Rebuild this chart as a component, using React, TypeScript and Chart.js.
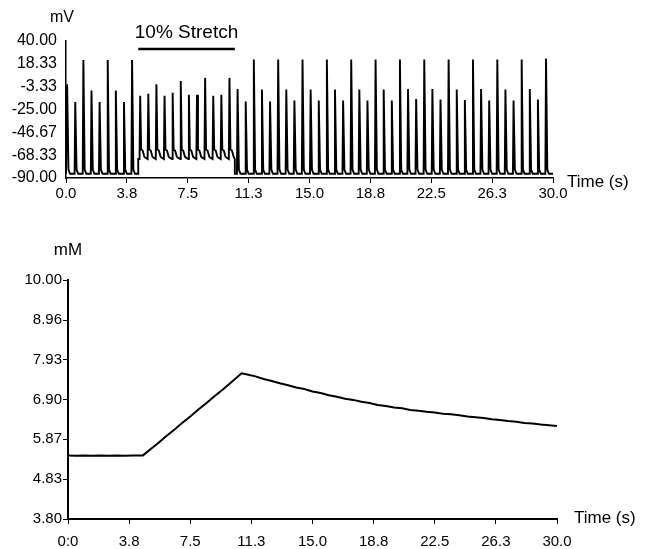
import React, { useEffect, useRef } from "react";
import { Chart, registerables } from "chart.js";

Chart.register(...registerables);

// ---------- Data: membrane potential (top panel) ----------
const spikeTimes = [
  0.05, 0.55, 1.05, 1.55, 2.05, 2.55, 3.05, 3.55, 4.05, 4.55,
  5.05, 5.55, 6.05, 6.55, 7.05, 7.55, 8.05, 8.55, 9.05, 9.55,
  10.05, 10.55, 11.05, 11.55, 12.05, 12.55, 13.05, 13.55, 14.05, 14.55,
  15.05, 15.55, 16.05, 16.55, 17.05, 17.55, 18.05, 18.55, 19.05, 19.55,
  20.05, 20.55, 21.05, 21.55, 22.05, 22.55, 23.05, 23.55, 24.05, 24.55,
  25.05, 25.55, 26.05, 26.55, 27.05, 27.55, 28.05, 28.55, 29.05, 29.55,
];
const spikePeaks = [
  -1, -18, 22, -7, -18, 22, -7, -18, 22, -12,
  -10, -1, -12, -9, 2, -11, -11, 5, -12, -11,
  5, -5.5, -17.5, 22.5, -6, -17.5, 22.5, -6, -16.5, 22.5,
  -6, -16.5, 22.5, -6, -16.5, 22.5, -6, -16.5, 22.5, -6,
  -16.5, 22.5, -5.5, -15, 22.5, -5.5, -15.5, 22.5, -6, -16,
  22.5, -5.5, -16.5, 22.5, -6, -16.5, 22.5, -5.5, -15.5, 23.5,
];
const restBase = -86;
const stretchBase = -72;
const stretchStart = 4.45;
const stretchEnd = 10.4;

const topYTicks = [-90, -68.33, -46.67, -25, -3.33, 18.33, 40];
const topYLabels = ["-90.00", "-68.33", "-46.67", "-25.00", "-3.33", "18.33", "40.00"];
const xTickValues = [0, 3.75, 7.5, 11.25, 15, 18.75, 22.5, 26.25, 30];
const topXLabels = ["0.0", "3.8", "7.5", "11.3", "15.0", "18.8", "22.5", "26.3", "30.0"];

// ---------- Data: concentration (bottom panel) ----------
const caTimes = [
  0, 0.5, 1, 1.5, 2, 2.5, 3, 3.5, 4, 4.6,
  5, 5.5, 6, 6.5, 7, 7.5, 8, 8.5, 9, 9.5, 10, 10.65,
  11, 11.5, 12, 12.5, 13, 13.5, 14, 14.5, 15, 15.5, 16, 16.5, 17, 17.5,
  18, 18.5, 19, 19.5, 20, 20.5, 21, 21.5, 22, 22.5, 23, 23.5, 24, 24.5,
  25, 25.5, 26, 26.5, 27, 27.5, 28, 28.5, 29, 29.5, 30,
];
const caValues = [
  5.45, 5.44, 5.45, 5.44, 5.45, 5.44, 5.45, 5.44, 5.45, 5.45,
  5.59, 5.76, 5.94, 6.11, 6.29, 6.46, 6.64, 6.81, 6.99, 7.16, 7.34, 7.58,
  7.55, 7.50, 7.43, 7.38, 7.32, 7.27, 7.21, 7.17, 7.11, 7.07, 7.01, 6.97, 6.92, 6.89,
  6.84, 6.81, 6.76, 6.73, 6.69, 6.67, 6.63, 6.61, 6.58, 6.56, 6.53, 6.52, 6.49, 6.46,
  6.44, 6.42, 6.39, 6.37, 6.34, 6.32, 6.29, 6.28, 6.25, 6.23, 6.21,
];
const botYTicks = [3.8, 4.83, 5.87, 6.9, 7.93, 8.96, 10];
const botYLabels = ["3.80", "4.83", "5.87", "6.90", "7.93", "8.96", "10.00"];
const botXLabels = ["0:0", "3.8", "7.5", "11.3", "15.0", "18.8", "22.5", "26.3", "30.0"];

const FONT = "'Liberation Sans', Arial, sans-serif";

function buildTrace() {
  const pts: { x: number; y: number }[] = [{ x: 0, y: restBase }];
  let prevBase = restBase;
  spikeTimes.forEach((t, k) => {
    const inStretch = t >= stretchStart && t < stretchEnd;
    const b = inStretch ? stretchBase : restBase;
    if (b !== prevBase) {
      const edge = inStretch ? stretchStart : stretchEnd;
      pts.push({ x: edge, y: prevBase }, { x: edge, y: b });
      prevBase = b;
    }
    const p = spikePeaks[k];
    pts.push({ x: t - 0.02, y: b }, { x: t + 0.02, y: p });
    if (inStretch) {
      pts.push(
        { x: t + 0.08, y: b + 9 },
        { x: t + 0.17, y: b + 8 },
        { x: t + 0.28, y: b + 2 }
      );
    } else {
      pts.push({ x: t + 0.1, y: b + 4 }, { x: t + 0.2, y: b });
    }
  });
  pts.push({ x: 30, y: restBase });
  return pts;
}

const textPlugin = (kind: "top" | "bottom") => ({
  id: "texts-" + kind,
  afterDraw(chart: any) {
    const ctx = chart.ctx;
    const xs = chart.scales.x;
    ctx.save();
    ctx.fillStyle = "#000";
    ctx.strokeStyle = "#000";
    ctx.textBaseline = "middle";
    if (kind === "top") {
      ctx.font = `16px ${FONT}`;
      ctx.textAlign = "center";
      ctx.fillText("mV", 62, 18);
      ctx.font = `19px ${FONT}`;
      const x0 = xs.getPixelForValue(stretchStart);
      const x1 = xs.getPixelForValue(stretchEnd);
      ctx.fillText("10% Stretch", (x0 + x1) / 2, 33);
      ctx.lineWidth = 2.5;
      ctx.beginPath();
      ctx.moveTo(x0, 49);
      ctx.lineTo(x1, 49);
      ctx.stroke();
      ctx.font = `17px ${FONT}`;
      ctx.textAlign = "left";
      ctx.fillText("Time (s)", xs.right + 14, xs.top + 4);
    } else {
      ctx.font = `17px ${FONT}`;
      ctx.textAlign = "center";
      ctx.fillText("mM", 68, 20);
      ctx.textAlign = "left";
      ctx.fillText("Time (s)", xs.right + 17, xs.top - 1);
    }
    ctx.restore();
  },
});

export default function App() {
  const topRef = useRef<HTMLCanvasElement>(null);
  const botRef = useRef<HTMLCanvasElement>(null);

  useEffect(() => {
    const tickFont = { family: FONT, size: 15 };
    const top = new Chart(topRef.current!, {
      type: "line",
      data: {
        datasets: [
          {
            data: buildTrace(),
            borderColor: "#000",
            borderWidth: 1.9,
            pointRadius: 0,
            tension: 0,
            fill: false,
          },
        ],
      },
      options: {
        responsive: false,
        animation: false,
        events: [],
        layout: { padding: { left: 0, right: 93, top: 41, bottom: 0 } },
        plugins: { legend: { display: false }, tooltip: { enabled: false } },
        scales: {
          x: {
            type: "linear",
            min: 0,
            max: 30,
            afterBuildTicks: (s: any) => {
              s.ticks = xTickValues.map((v) => ({ value: v }));
            },
            afterFit: (s: any) => {
              s.height = 37;
            },
            ticks: {
              callback: (_v: any, i: number) => topXLabels[i],
              autoSkip: false,
              maxRotation: 0,
              color: "#000",
              font: tickFont,
              padding: 2,
            },
            grid: { display: true, drawOnChartArea: false, drawTicks: true, tickLength: 5, color: "#000", lineWidth: 1 },
            border: { display: true, color: "#000", width: 1.5 },
          },
          y: {
            type: "linear",
            min: -90,
            max: 40,
            afterBuildTicks: (s: any) => {
              s.ticks = topYTicks.map((v) => ({ value: v }));
            },
            afterFit: (s: any) => {
              s.width = 66;
            },
            ticks: {
              callback: (_v: any, i: number) => topYLabels[i],
              autoSkip: false,
              color: "#000",
              font: { family: FONT, size: 16 },
              padding: 9,
            },
            grid: { display: false, drawTicks: false, tickLength: 0 },
            border: { display: true, color: "#000", width: 1.5 },
          },
        },
      },
      plugins: [textPlugin("top")],
    } as any);

    const bot = new Chart(botRef.current!, {
      type: "line",
      data: {
        datasets: [
          {
            data: caTimes.map((t, i) => ({ x: t, y: caValues[i] })),
            borderColor: "#000",
            borderWidth: 2,
            pointRadius: 0,
            tension: 0,
            fill: false,
          },
        ],
      },
      options: {
        responsive: false,
        animation: false,
        events: [],
        layout: { padding: { left: 0, right: 89, top: 50, bottom: 0 } },
        plugins: { legend: { display: false }, tooltip: { enabled: false } },
        scales: {
          x: {
            type: "linear",
            min: 0,
            max: 30,
            afterBuildTicks: (s: any) => {
              s.ticks = xTickValues.map((v) => ({ value: v }));
            },
            afterFit: (s: any) => {
              s.height = 30;
            },
            ticks: {
              callback: (_v: any, i: number) => botXLabels[i],
              autoSkip: false,
              maxRotation: 0,
              color: "#000",
              font: tickFont,
              padding: 9,
            },
            grid: { display: true, drawOnChartArea: false, drawTicks: true, tickLength: 5, color: "#000", lineWidth: 1 },
            border: { display: true, color: "#000", width: 2 },
          },
          y: {
            type: "linear",
            min: 3.8,
            max: 10,
            afterBuildTicks: (s: any) => {
              s.ticks = botYTicks.map((v) => ({ value: v }));
            },
            afterFit: (s: any) => {
              s.width = 68;
            },
            ticks: {
              callback: (_v: any, i: number) => botYLabels[i],
              autoSkip: false,
              color: "#000",
              font: tickFont,
              padding: 1,
            },
            grid: { display: true, drawOnChartArea: false, drawTicks: true, tickLength: 5, color: "#000", lineWidth: 1 },
            border: { display: true, color: "#000", width: 2 },
          },
        },
      },
      plugins: [textPlugin("bottom")],
    } as any);

    return () => {
      top.destroy();
      bot.destroy();
    };
  }, []);

  return (
    <div style={{ position: "absolute", left: 0, top: 0, width: 646, height: 549, background: "#fff" }}>
      <canvas ref={topRef} width={646} height={215} style={{ position: "absolute", left: 0, top: 0 }} />
      <canvas ref={botRef} width={646} height={319} style={{ position: "absolute", left: 0, top: 230 }} />
    </div>
  );
}
